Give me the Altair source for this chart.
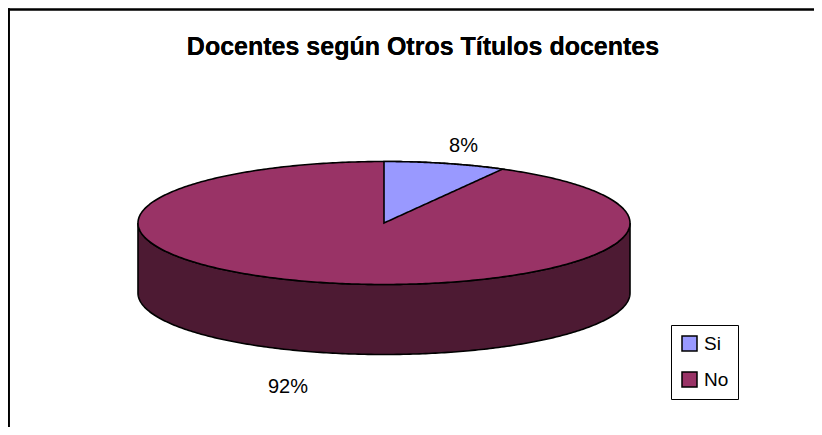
import altair as alt
import numpy as np
import pandas as pd

# ---- data ----
categories = ["Si", "No"]
values = [8, 92]
title_text = "Docentes según Otros Títulos docentes"

# ---- styles / layout ----
top_colors = ["#9999FF", "#993366"]
wall_color = "#4D1A33"
FONT = "Liberation Sans"
W, H = 806, 419
CX, CY, A, B, DEPTH = 376, 215, 246, 61.5, 70
LABEL_K = [1.3, 1.57]

total = sum(values)
shares = [v / total for v in values]

# full top ellipse (No colour underneath)
t = np.linspace(-np.pi / 2, np.pi / 2, 241)
ell = pd.DataFrame({
    "x": CX + A * np.sin(t),
    "y": CY - B * np.cos(t),
    "y2": CY + B * np.cos(t),
})
# front wall of the cylinder
wall = pd.DataFrame({
    "x": CX + A * np.sin(t),
    "y": CY + B * np.cos(t),
    "y2": CY + B * np.cos(t) + DEPTH,
})
# Si wedge (starts at 12 o'clock, clockwise)
th = 2 * np.pi * shares[0]
tw = np.linspace(0, th, 80)
wx = CX + A * np.sin(tw)
wy = CY - B * np.cos(tw)
xe, ye = wx[-1], wy[-1]
wedge = pd.DataFrame({
    "x": wx,
    "y": wy,
    "y2": CY + (ye - CY) * (wx - CX) / (xe - CX),
})

# labels
cum = 0.0
lab_rows = []
for c, v, s, k in zip(categories, values, shares, LABEL_K):
    mid = 2 * np.pi * (cum + s / 2)
    cum += s
    lx = CX + A * k * np.sin(mid)
    ly = CY - B * k * np.cos(mid) + (DEPTH if np.cos(mid) < 0 else 0)
    lab_rows.append({"cat": c, "x": lx, "y": ly, "label": f"{round(s * 100)}%"})
labels = pd.DataFrame(lab_rows)

xs = alt.Scale(domain=[0, W], range=[0, W], nice=False, zero=False)
ys = alt.Scale(domain=[0, H], range=[0, H], nice=False, zero=False)
X = alt.X("x:Q", scale=xs, axis=None)
Y = alt.Y("y:Q", scale=ys, axis=None)

wall_layer = alt.Chart(wall).mark_area(
    color=wall_color, stroke="black", strokeWidth=1.6, interpolate="linear"
).encode(x=X, y=Y, y2="y2:Q")

top_layer = alt.Chart(ell).mark_area(
    color=top_colors[1], stroke="black", strokeWidth=1.6
).encode(x=X, y=Y, y2="y2:Q")

wedge_layer = alt.Chart(wedge).mark_area(
    color=top_colors[0], stroke="black", strokeWidth=1.6
).encode(x=X, y=Y, y2="y2:Q")

label_layer = alt.Chart(labels).mark_text(
    font=FONT, fontSize=20, color="black", align="center", baseline="middle"
).encode(x=X, y=Y, text="label:N")

legend_layer = alt.Chart(labels).mark_point(
    filled=True, opacity=0, shape="square"
).encode(
    x=alt.value(-200), y=alt.value(-200),
    color=alt.Color(
        "cat:N",
        scale=alt.Scale(domain=categories, range=top_colors),
        legend=alt.Legend(
            orient="none", legendX=663, legendY=317, title=None,
            symbolType="square", symbolSize=225, symbolStrokeColor="black",
            symbolStrokeWidth=1.5, symbolOpacity=1,
            labelFontSize=19, labelFont=FONT, labelColor="black",
            strokeColor="black", fillColor="white", padding=9,
            rowPadding=15, labelOffset=5,
        ),
    ),
)

title_layer = alt.Chart(labels).mark_text(
    font=FONT, fontSize=25, fontWeight="bold", color="black",
    align="center", baseline="middle"
).encode(x=alt.value(415), y=alt.value(39), text=alt.value(title_text))

border_top = alt.Chart(labels).mark_rule(
    stroke="black", strokeWidth=1.8
).encode(x=alt.value(0), x2=alt.value(W), y=alt.value(1.5))
border_left = alt.Chart(labels).mark_rule(
    stroke="black", strokeWidth=1.8
).encode(x=alt.value(0.9), y=alt.value(0.6), y2=alt.value(H))

chart = alt.layer(
    border_top, border_left, wall_layer, top_layer, wedge_layer,
    label_layer, legend_layer, title_layer
).properties(
    width=W, height=H, autosize=alt.AutoSizeParams(type="none"), padding=0,
    background="white",
).configure_view(strokeWidth=0, stroke="transparent")

chart.save("out.html", embed_options={"renderer": "svg", "actions": False})
